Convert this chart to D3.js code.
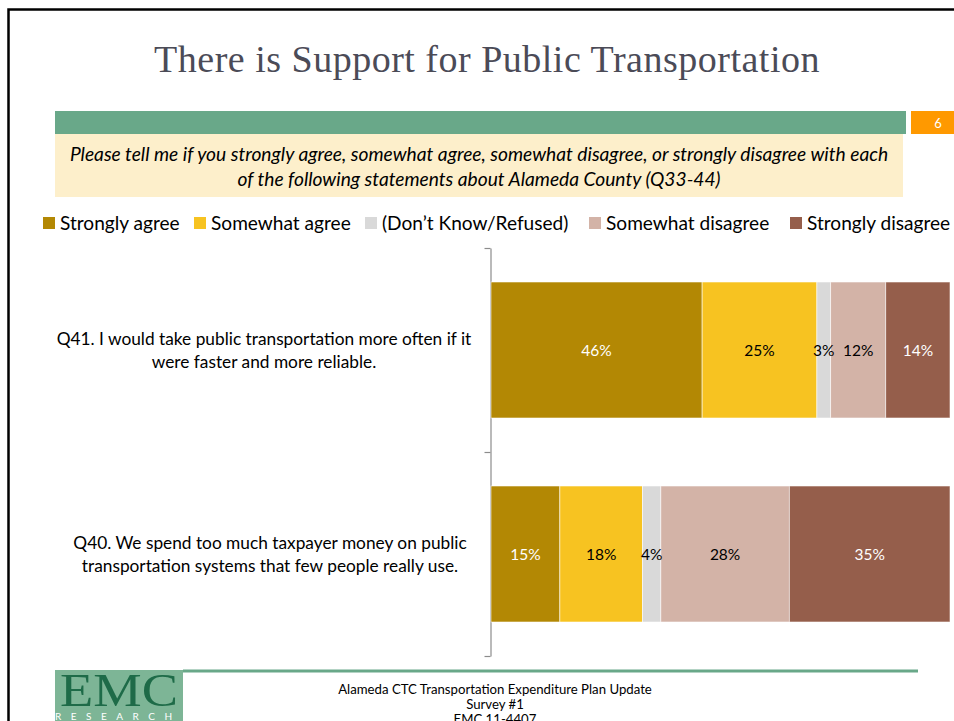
<!DOCTYPE html>
<html>
<head>
<meta charset="utf-8">
<script src="https://cdn.jsdelivr.net/npm/d3@7"></script>
<style>
  html, body { margin: 0; padding: 0; background: #fff; }
  svg { display: block; }
</style>
</head>
<body>
<svg id="chart" width="954" height="721"></svg>
<script>
// ---------- data ----------
const title = "There is Support for Public Transportation";
const subtitleLines = [
  "Please tell me if you strongly agree, somewhat agree, somewhat disagree, or strongly disagree with each",
  "of the following statements about Alameda County (Q33-44)"
];
const pageNumber = "6";
const categories = ["Q41", "Q40"];
const categoryLabels = [
  ["Q41. I would take public transportation more often if it", "were faster and more reliable."],
  ["Q40. We spend too much taxpayer money on public", "transportation systems that few people really use."]
];
const seriesNames = ["Strongly agree", "Somewhat agree", "(Don\u2019t Know/Refused)", "Somewhat disagree", "Strongly disagree"];
const stronglyAgree    = [46, 15];
const somewhatAgree    = [25, 18];
const dontKnow         = [3, 4];
const somewhatDisagree = [12, 28];
const stronglyDisagree = [14, 35];
const seriesColors = ["#b38804", "#f7c321", "#d9d9d9", "#d3b3a7", "#955e4b"];
const labelColors  = ["#ffffff", "#000000", "#000000", "#000000", "#ffffff"];
const footerLines = ["Alameda CTC Transportation Expenditure Plan Update", "Survey #1", "EMC 11-4407"];

// ---------- build table ----------
const seriesValues = [stronglyAgree, somewhatAgree, dontKnow, somewhatDisagree, stronglyDisagree];
const table = categories.map((c, i) => {
  const row = { cat: c };
  seriesNames.forEach((s, j) => row[s] = seriesValues[j][i]);
  return row;
});
const stacked = d3.stack().keys(seriesNames)(table);

const svg = d3.select("#chart");
const sans = "'Lato', 'Open Sans', sans-serif";

// ---------- frame ----------
svg.append("path")
  .attr("d", "M8.5,721 L8.5,9.5 L954,9.5")
  .attr("fill", "none").attr("stroke", "#000").attr("stroke-width", 2.5);

// ---------- title ----------
svg.append("text")
  .attr("x", 487).attr("y", 72)
  .attr("text-anchor", "middle")
  .attr("font-family", "'Liberation Serif', 'DejaVu Serif', serif")
  .attr("font-size", 38)
  .attr("letter-spacing", 0.5)
  .attr("fill", "#4b4b57")
  .text(title);

// ---------- header bars ----------
svg.append("rect").attr("x", 55).attr("y", 111).attr("width", 851).attr("height", 23).attr("fill", "#69a889");
svg.append("rect").attr("x", 911).attr("y", 111).attr("width", 43).attr("height", 23).attr("fill", "#ff9900");
svg.append("text").attr("x", 938).attr("y", 127.5).attr("text-anchor", "middle")
  .attr("font-family", sans).attr("font-size", 13).attr("fill", "#fff").text(pageNumber);
svg.append("rect").attr("x", 55).attr("y", 134).attr("width", 848).attr("height", 63).attr("fill", "#fdefcb");
svg.selectAll("text.sub").data(subtitleLines).join("text")
  .attr("class", "sub")
  .attr("x", 479).attr("y", (d, i) => 161 + i * 25)
  .attr("text-anchor", "middle")
  .attr("font-family", sans).attr("font-style", "italic")
  .attr("font-size", 19.2).attr("fill", "#000")
  .text(d => d);

// ---------- legend ----------
const legendX = [43, 194, 365, 589, 790];
const legend = svg.selectAll("g.leg").data(seriesNames).join("g")
  .attr("class", "leg")
  .attr("transform", (d, i) => `translate(${legendX[i]},217)`);
legend.append("rect").attr("width", 12).attr("height", 12).attr("fill", (d, i) => seriesColors[i]);
legend.append("text").attr("x", 17).attr("y", 12.5)
  .attr("font-family", sans).attr("font-size", 19.1).attr("fill", "#000")
  .text(d => d);

// ---------- scales ----------
const x = d3.scaleLinear().domain([0, 100]).range([491, 950]);
const y = d3.scaleBand().domain(categories).range([248, 656]).paddingInner(1 / 3).paddingOuter(1 / 6);
const yEdge = d3.scaleLinear().domain([0, categories.length]).range([248, 656]);

// ---------- axis ----------
const axis = svg.append("g").attr("transform", "translate(490.5,0)")
  .call(d3.axisLeft(yEdge).ticks(categories.length).tickFormat("").tickSizeInner(6).tickSizeOuter(0));
axis.selectAll("path, line").attr("stroke", "#8c8c8c").attr("stroke-width", 1.2);

// ---------- bars ----------
const layers = svg.selectAll("g.layer").data(stacked).join("g")
  .attr("class", "layer")
  .attr("fill", (d, i) => seriesColors[i]);
layers.selectAll("rect").data(d => d.map(v => ({ v, cat: v.data.cat }))).join("rect")
  .attr("x", d => x(d.v[0]))
  .attr("width", d => x(d.v[1]) - x(d.v[0]))
  .attr("y", d => y(d.cat))
  .attr("height", y.bandwidth())
  .attr("stroke", "#ffffff").attr("stroke-width", 0.8).attr("stroke-opacity", 0.7);

// value labels
stacked.forEach((layer, i) => {
  svg.append("g").selectAll("text").data(layer).join("text")
    .attr("x", d => (x(d[0]) + x(d[1])) / 2)
    .attr("y", d => y(d.data.cat) + y.bandwidth() / 2 + 5.5)
    .attr("text-anchor", "middle")
    .attr("font-family", sans).attr("font-size", 15.5)
    .attr("fill", labelColors[i])
    .text(d => (d[1] - d[0]) + "%");
});

// ---------- category labels ----------
const labelCenterX = [264, 270];
const catG = svg.selectAll("g.cat").data(categories).join("g").attr("class", "cat");
catG.selectAll("text").data((d, i) => categoryLabels[i].map(t => ({ t, cat: d, i }))).join("text")
  .attr("x", d => labelCenterX[d.i])
  .attr("y", (d, j) => y(d.cat) + y.bandwidth() / 2 - 5 + j * 23)
  .attr("text-anchor", "middle")
  .attr("font-family", sans).attr("font-size", 17.3).attr("fill", "#000")
  .text(d => d.t);

// ---------- footer ----------
svg.append("rect").attr("x", 183).attr("y", 669.5).attr("width", 735).attr("height", 3).attr("fill", "#69a889");
const logo = svg.append("g").attr("transform", "translate(55,670)");
logo.append("rect").attr("width", 128).attr("height", 51).attr("fill", "#7db596");
logo.append("text").attr("x", 64).attr("y", 36).attr("text-anchor", "middle")
  .attr("font-family", "'Liberation Serif', serif").attr("font-size", 46)
  .attr("textLength", 118).attr("lengthAdjust", "spacingAndGlyphs")
  .attr("fill", "#1e6b48").text("EMC");
logo.append("text").attr("x", 0).attr("y", 50).attr("font-family", sans).attr("font-size", 10)
  .attr("letter-spacing", 9.5).attr("fill", "#ffffff").text("RESEARCH");
svg.selectAll("text.foot").data(footerLines).join("text")
  .attr("class", "foot")
  .attr("x", 495).attr("y", (d, i) => 693.5 + i * 15)
  .attr("text-anchor", "middle")
  .attr("font-family", sans).attr("font-size", 13.2).attr("fill", "#000")
  .text(d => d);
</script>
</body>
</html>
